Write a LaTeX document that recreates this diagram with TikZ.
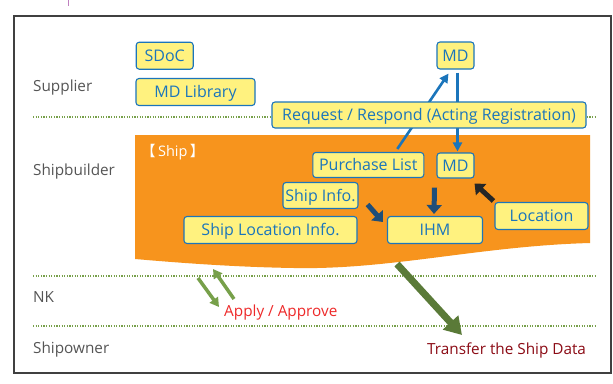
\documentclass[tikz,border=0pt]{standalone}
\usepackage{fontspec}
\setmainfont{Open Sans}
\newfontfamily\cjkfont{Noto Sans CJK JP}
\usetikzlibrary{arrows.meta}
\definecolor{boxblue}{HTML}{1B75BB}
\definecolor{boxfill}{HTML}{FFF27F}
\definecolor{shiporange}{HTML}{F7941D}
\definecolor{navy}{HTML}{1F4E79}
\definecolor{lightgreen}{HTML}{77A04A}
\definecolor{darkgreen}{HTML}{5A7A38}
\definecolor{dotgreen}{HTML}{77A04A}
\definecolor{labelgray}{HTML}{555555}
\definecolor{applyred}{HTML}{EE2A2A}
\definecolor{darkred}{HTML}{8B0A14}
\tikzset{
  ybox/.style={draw=boxblue, fill=boxfill, line width=1.1pt, rounded corners=3pt,
    text=boxblue, font=\fontsize{16}{19}\selectfont, inner sep=0pt, anchor=center,
    text height=11.4pt, text depth=0pt},
  rowlabel/.style={text=labelgray, font=\fontsize{15.3}{18}\selectfont, anchor=base west, inner sep=0pt},
  sep/.style={dotgreen, line width=1.2pt, dash pattern=on 1.2pt off 1.4pt},
  bluearrow/.style={boxblue, line width=2.6pt, -{Triangle[length=9pt,width=9pt]}},
  navyarrow/.style={navy, line width=5pt, -{Triangle[length=9pt,width=15pt]}},
  blackarrow/.style={black!85, line width=5pt, -{Triangle[length=9pt,width=15pt]}},
  greenarrow/.style={lightgreen, line width=3.5pt, -{Triangle[length=9pt,width=10pt]}},
  bigarrow/.style={darkgreen, line width=7pt, -{Triangle[length=17pt,width=20pt]}}
}
\begin{document}
\begin{tikzpicture}[x=1pt,y=-1pt]
\useasboundingbox (0,0) rectangle (613,383);
\fill[white] (0,0) rectangle (613,383);
\draw[violet!50, line width=1pt] (68,0) -- (68,6);
\draw[black!75, line width=1.2pt] (14,16) rectangle (611,373);
% separators
\draw[sep] (33,117) -- (597,117);
\draw[sep] (33,276) -- (597,276);
\draw[sep] (33,326) -- (597,326);
% row labels
\node[rowlabel] (lsup) at (33,91.7) {Supplier};
\node[rowlabel] (lsb) at (33,175.7) {Shipbuilder};
\node[rowlabel] (lnk) at (33,302.5) {NK};
\node[rowlabel] (lso) at (33,353.5) {Shipowner};
% ship area
\fill[shiporange] (135,135) -- (590,135) -- (590,243)
  .. controls (480,246) and (390,270) .. (294,268)
  .. controls (230,267) and (170,262) .. (135,259) -- cycle;
\node[text=white, font=\fontsize{14.5}{18}\selectfont, anchor=base west, inner sep=0pt] (shiplbl) at (141,156.5) {{\cjkfont 【}\,Ship\,{\cjkfont 】}};
% boxes
\node[ybox, minimum width=57pt, minimum height=27pt] (sdoc) at (164.7,55.7) {SDoC};
\node[ybox, minimum width=119pt, minimum height=27pt] (mdlib) at (195.5,92) {MD Library};
\node[ybox, minimum width=37pt, minimum height=27pt] (mdt) at (455.5,55.5) {MD};
\node[ybox, minimum width=37pt, minimum height=25pt] (mds) at (455.5,165.5) {MD};
\node[ybox, minimum width=111pt, minimum height=25pt] (pl) at (368.3,165) {Purchase List};
\node[ybox, minimum width=75pt, minimum height=26pt] (si) at (320.5,195.5) {Ship Info.};
\node[ybox, minimum width=173pt, minimum height=27pt] (sli) at (270.5,230) {Ship Location Info.};
\node[ybox, minimum width=95pt, minimum height=27pt] (ihm) at (435,230) {IHM};
\node[ybox, minimum width=93pt, minimum height=27pt] (loc) at (541.5,216) {Location};
% blue arrows (behind request box)
\draw[bluearrow] ([xshift=29pt,yshift=3pt]pl.north) -- ([xshift=-7pt,yshift=-4pt]mdt.south);
\draw[bluearrow] ([xshift=2pt,yshift=-3pt]mdt.south) -- ([xshift=2pt,yshift=1pt]mds.north);
\node[ybox, minimum width=314pt, minimum height=26pt] (req) at (429,115) {Request / Respond (Acting Registration)};
% thick arrows
\draw[navyarrow] ([xshift=-21pt,yshift=-9pt]mds.south) -- ([xshift=-1pt,yshift=2pt]ihm.north);
\draw[navyarrow] ([xshift=9pt,yshift=-9pt]si.east) -- ([xshift=-4pt,yshift=8pt]ihm.west);
\draw[blackarrow] ([xshift=-1pt,yshift=1pt]loc.north west) -- ([yshift=-5pt]mds.south east);
% green arrows
\coordinate (ga1s) at (198,278);
\coordinate (ga1e) at (219,307);
\coordinate (ga2s) at (234,299);
\coordinate (ga2e) at (213,269);
\draw[greenarrow] (ga1s) -- (ga1e);
\draw[greenarrow] (ga2s) -- (ga2e);
\coordinate (bgs) at (397,264);
\coordinate (bge) at (462,335);
\draw[bigarrow] (bgs) -- (bge);
% labels
\node[text=applyred, font=\fontsize{15.3}{18}\selectfont, anchor=base west, inner sep=0pt] (apply) at (224,316.7) {Apply / Approve};
\node[text=darkred, font=\fontsize{15.3}{18}\selectfont, anchor=base west, inner sep=0pt] (transfer) at (427,354) {Transfer the Ship Data};
\end{tikzpicture}
\end{document}
